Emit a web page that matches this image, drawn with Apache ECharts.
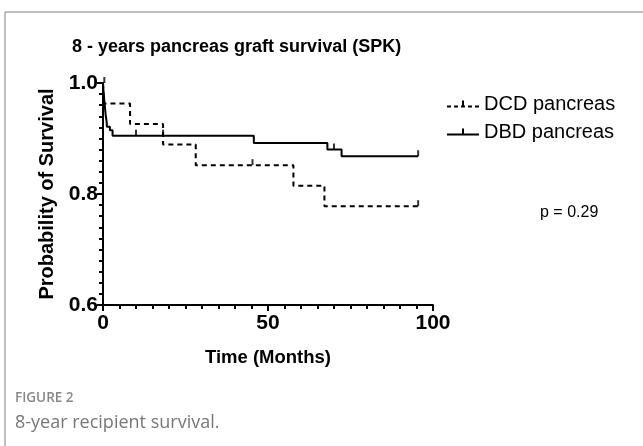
<!DOCTYPE html>
<html><head><meta charset="utf-8">
<script src="https://cdn.jsdelivr.net/npm/echarts@6/dist/echarts.min.js"></script>
<style>html,body{margin:0;padding:0;background:#fff}#c{width:643px;height:446px}</style>
</head><body><div id="c"></div>
<script>
const titleText = '8 - years pancreas graft survival (SPK)';
const seriesNames = ['DCD pancreas', 'DBD pancreas'];
// Kaplan-Meier steps: [months, survival]
const dcdSteps = [[0,1.0],[0.3,0.963],[8.2,0.926],[18.2,0.889],[28.1,0.852],[57.7,0.815],[67.1,0.778],[95.5,0.778]];
const dbdSteps = [[0,1.0],[0.2,0.981],[0.5,0.962],[0.8,0.943],[1.1,0.930],[1.2,0.921],[2.1,0.915],[2.9,0.905],[45.7,0.892],[68,0.880],[72.3,0.868],[95.5,0.868]];
// censor marks
const dcdCensor = [[45.3,0.852],[95.5,0.778]];
const dbdCensor = [[0.4,1.0],[10,0.905],[18.2,0.905],[70,0.880],[95.5,0.868]];
const yTicks = [0.6, 0.8, 1.0];
const xTicks = [0, 50, 100];
const pText = 'p = 0.29';
const figLabel = 'FIGURE 2';
const captionText = '8-year recipient survival.';

const tick = 'path://M0,0 L1,0 L1,10 L0,10 Z';
const dashIcon = 'path://M0,5h4v2h-4z M7,5h4v2h-4z M14,5h4v2h-4z M21,5h4v2h-4z M28,5h4v2h-4z M15,0h2v7h-2z';
const solidIcon = 'path://M0,5h32v2h-32z M15,0h2v7h-2z';
const chart = echarts.init(document.getElementById('c'), null, {renderer:'canvas'});
const FF = 'Liberation Sans, Arial, sans-serif';
const bold = {fontFamily:FF, fontWeight:'bold', color:'#000'};
chart.setOption({
  animation:false,
  backgroundColor:'#fff',
  title:{text:titleText, left:67, top:33, textStyle:Object.assign({fontSize:18}, bold)},
  legend:{
    orient:'vertical', left:442, top:89, itemGap:8, itemWidth:32, itemHeight:8,
    textStyle:{fontFamily:FF, fontSize:20, color:'#000'},
    data:[{name:seriesNames[0], icon:dashIcon},{name:seriesNames[1], icon:solidIcon}]
  },
  grid:{left:103, right:210, top:83, bottom:141},
  xAxis:{
    type:'value', min:xTicks[0], max:xTicks[xTicks.length-1], interval:50,
    name:'Time (Months)', nameLocation:'middle', nameGap:43,
    nameTextStyle:Object.assign({fontSize:18.5}, bold),
    axisLine:{onZero:false, lineStyle:{color:'#000', width:2}},
    axisTick:{length:6, lineStyle:{color:'#000', width:2}},
    minorTick:{show:true, splitNumber:10, length:4, lineStyle:{color:'#000', width:2}},
    axisLabel:Object.assign({fontSize:21, margin:8}, bold),
    splitLine:{show:false}
  },
  yAxis:{
    type:'value', min:yTicks[0], max:yTicks[yTicks.length-1], interval:0.2,
    name:'Probability of Survival', nameLocation:'middle', nameGap:37, nameRotate:90,
    nameTextStyle:Object.assign({fontSize:20}, bold),
    axisLine:{onZero:false, lineStyle:{color:'#000', width:2}},
    axisTick:{length:6, lineStyle:{color:'#000', width:2}},
    minorTick:{show:true, splitNumber:10, length:4, lineStyle:{color:'#000', width:2}},
    axisLabel:Object.assign({fontSize:21, margin:5, formatter:v=>v.toFixed(1)}, bold),
    splitLine:{show:false}
  },
  series:[
    {name:seriesNames[0], type:'line', step:'end', data:dcdSteps, showSymbol:false, symbol:'none',
     lineStyle:{color:'#000', width:2, type:[5,4]}, itemStyle:{color:'#000'}},
    {name:seriesNames[1], type:'line', step:'end', data:dbdSteps, showSymbol:false, symbol:'none',
     lineStyle:{color:'#000', width:2, type:'solid'}, itemStyle:{color:'#000'}},
    {name:'c1', type:'scatter', data:dcdCensor, symbol:tick, symbolSize:[2,6], symbolOffset:[0,-3], itemStyle:{color:'#000'}},
    {name:'c2', type:'scatter', data:dbdCensor, symbol:tick, symbolSize:[2,6], symbolOffset:[0,-3], itemStyle:{color:'#000'}}
  ],
  graphic:[
    {type:'line', shape:{x1:5, y1:12, x2:643, y2:12}, style:{stroke:'#aaa', lineWidth:1.5}},
    {type:'line', shape:{x1:5, y1:12, x2:5, y2:446}, style:{stroke:'#aaa', lineWidth:1.5}},
    {type:'text', left:540, top:205, style:{text:pText, font:'16px Liberation Sans, Arial, sans-serif', fill:'#000'}},
    {type:'text', left:15, top:391, style:{text:figLabel, font:'600 13.5px Open Sans, sans-serif', fill:'#888'}},
    {type:'text', left:15, top:414, style:{text:captionText, font:'18px Open Sans, sans-serif', fill:'#777'}}
  ]
});
</script></body></html>
